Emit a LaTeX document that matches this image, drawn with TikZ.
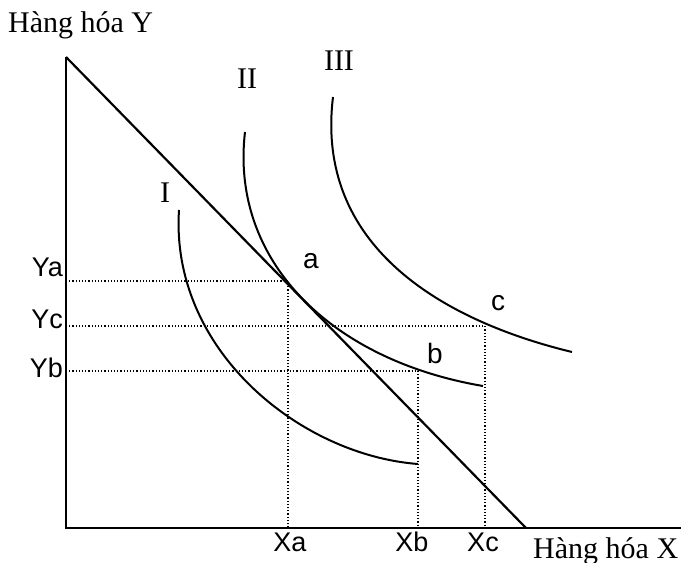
\documentclass[tikz,border=0pt]{standalone}
\usepackage{fontspec}
\setmainfont{Liberation Serif}
\newfontfamily\lsans{Liberation Sans}
\begin{document}
\begin{tikzpicture}[x=1pt,y=-1pt,
  axis/.style={line width=2.2pt},
  curve/.style={line width=2pt},
  guide/.style={dotted,line width=1.2pt},
  serlab/.style={font=\fontsize{30}{34}\selectfont,inner sep=0pt},
  roman/.style={font=\fontsize{30}{34}\selectfont,inner sep=0pt,anchor=base},
  axlab/.style={font=\lsans\fontsize{27}{30}\selectfont,inner sep=0pt,anchor=base},
  ptlab/.style={font=\lsans\fontsize{28}{30}\selectfont,inner sep=0pt,anchor=base}]
\useasboundingbox (0,0) rectangle (681,563);
\fill[white] (0,0) rectangle (681,563);
% axes
\coordinate (O) at (66,528);
\coordinate (Ytop) at (66,57);
\coordinate (Xend) at (681,528);
\coordinate (B) at (526,528);
\draw[axis] (Ytop) -- (O) -- (Xend);
\draw[axis] (Ytop) -- (B);
% points
\coordinate (a) at (288,281);
\coordinate (b) at (418,371);
\coordinate (c) at (485,326);
\coordinate (ya) at (66,281);
\coordinate (yb) at (66,371);
\coordinate (yc) at (66,326);
\coordinate (xa) at (288,528);
\coordinate (xb) at (418,528);
\coordinate (xc) at (485,528);
% guides
\draw[guide] (ya) -- (a) -- (xa);
\draw[guide] (yc) -- (c) -- (xc);
\draw[guide] (yb) -- (b) -- (xb);
% indifference curves
\coordinate (i0) at (179,210);
\coordinate (i1) at (418,464);
\coordinate (ii0) at (245,132);
\coordinate (ii1) at (483,386);
\coordinate (iii0) at (333,97);
\coordinate (iii1) at (572,352);
\draw[curve] (i0) .. controls (170,350) and (300,455) .. (i1);
\draw[curve] (ii0) .. controls (230,260) and (330,360) .. (ii1);
\draw[curve] (iii0) .. controls (315,245) and (440,320) .. (iii1);
% labels
\node[serlab,anchor=base west] (ly) at (8,32) {Hàng hóa Y};
\node[serlab,anchor=base west] (lx) at (533,558) {Hàng hóa X};
\node[roman] (l1) at (165,202) {I};
\node[roman] (l2) at (247,88) {II};
\node[roman] (l3) at (339,70) {III};
\node[ptlab] (la) at (311,268) {a};
\node[ptlab] (lb) at (435,363) {b};
\node[ptlab] (lc) at (498,310) {c};
\node[axlab,anchor=base east] (lya) at (63,276) {Ya};
\node[axlab,anchor=base east] (lyc) at (63,328) {Yc};
\node[axlab,anchor=base east] (lyb) at (63,377) {Yb};
\node[axlab] (lxa) at (290,551) {Xa};
\node[axlab] (lxb) at (412,551) {Xb};
\node[axlab] (lxc) at (483,551) {Xc};
\end{tikzpicture}
\end{document}
